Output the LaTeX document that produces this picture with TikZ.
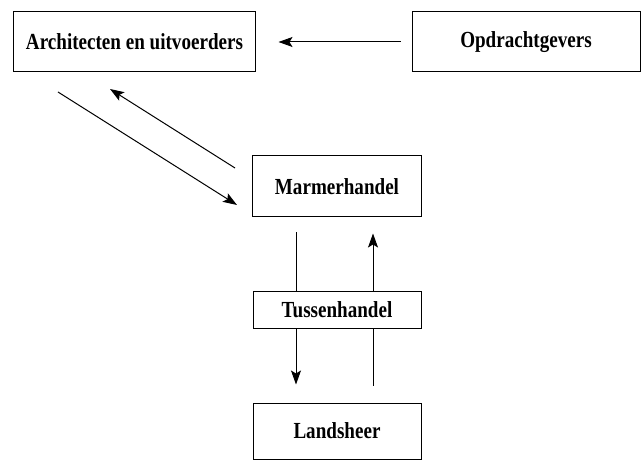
\documentclass[tikz,border=0pt]{standalone}
\usepackage{fontspec}
\newfontfamily\labfont[FakeStretch=0.83]{Liberation Serif}
\usetikzlibrary{arrows.meta,calc}
\tikzset{
  box/.style={draw, line width=1bp, rectangle, inner sep=0pt, align=center,
    font=\labfont\bfseries\fontsize{23bp}{26bp}\selectfont},
  link/.style={line width=1bp, -{Stealth[length=14bp,width=10bp,inset=3bp]}},
  plain/.style={line width=1bp}
}
\begin{document}
\begin{tikzpicture}[x=1bp,y=-1bp]
\useasboundingbox (0,0) rectangle (643,460);
\node[box, minimum width=241bp, minimum height=60bp] (arch) at (134.5,42) {Architecten en uitvoerders};
\node[box, minimum width=228bp, minimum height=60bp] (opd) at (526,42) {Opdrachtgevers};
\node[box, minimum width=169bp, minimum height=61bp] (marm) at (337,186.5) {Marmerhandel};
\node[box, minimum width=168bp, minimum height=36bp] (tus) at (337,310) {Tussenhandel};
\node[box, minimum width=168bp, minimum height=56bp] (land) at (337,431) {Landsheer};
% horizontal arrow
\draw[link, shorten <=11bp, shorten >=23bp] (opd.west) -- (arch.east);
% diagonal arrows
\coordinate (d1s) at (58,92);
\coordinate (d1e) at (237,205);
\coordinate (d2s) at (235,168);
\coordinate (d2e) at (110,89);
\draw[link] (d1s) -- (d1e);
\draw[link] (d2s) -- (d2e);
% vertical lines
\draw[plain, shorten >=15bp] ([xshift=-41bp]tus.north) -- ([xshift=-41bp]marm.south);
\draw[link, shorten >=18bp] ([xshift=-41bp]tus.south) -- ([xshift=-41bp]land.north);
\draw[link, shorten >=16bp] ([xshift=36bp]tus.north) -- ([xshift=36bp]marm.south);
\draw[plain, shorten <=17bp] ([xshift=36bp]land.north) -- ([xshift=36bp]tus.south);
\end{tikzpicture}
\end{document}
